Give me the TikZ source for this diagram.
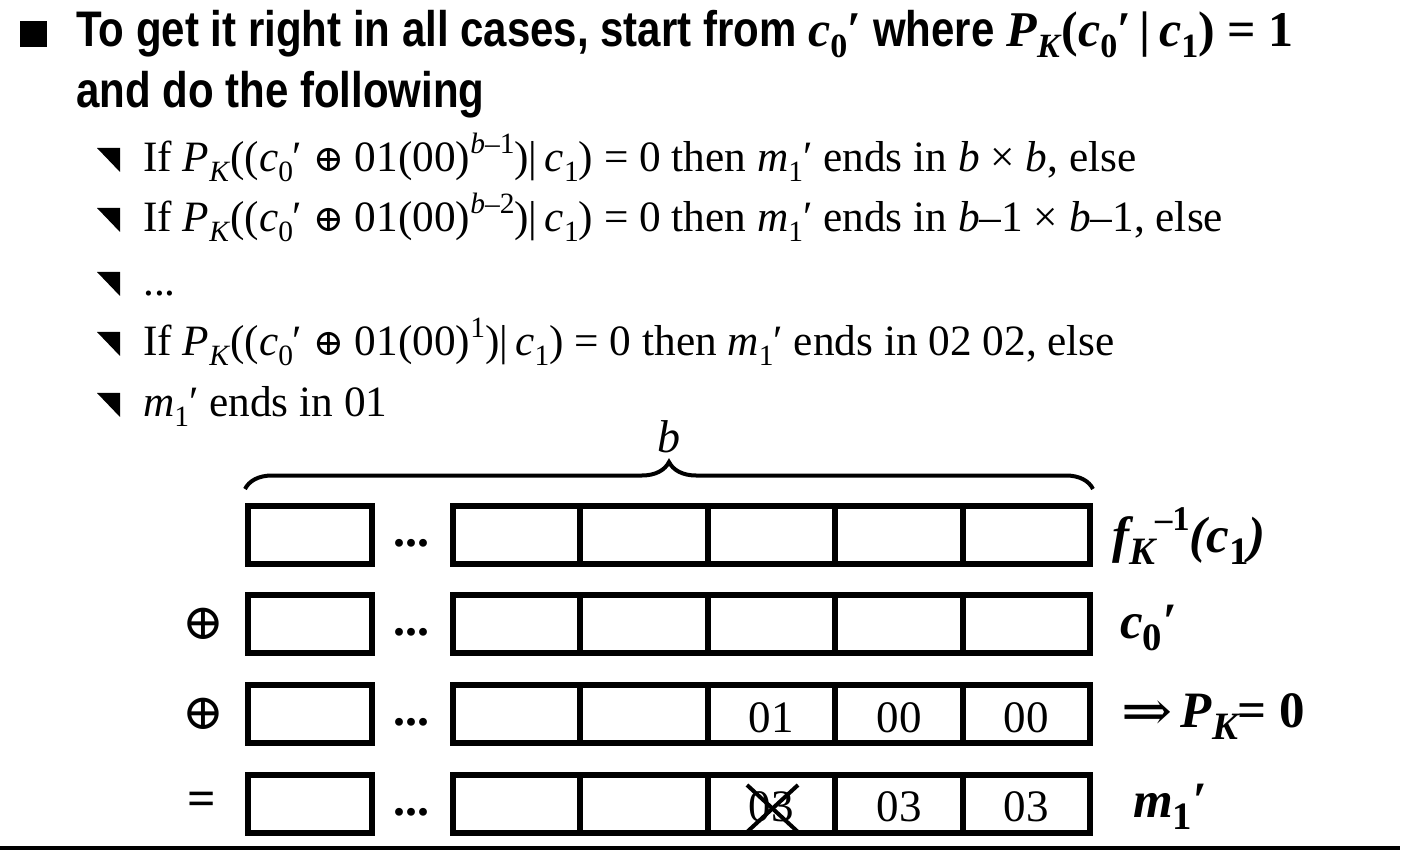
\documentclass[tikz,border=0pt]{standalone}
\usepackage{fontspec}
\usepackage{graphicx}
\setmainfont{Liberation Serif}
\newfontfamily\headfont[FakeStretch=0.84]{Liberation Sans}
\newfontfamily\symfont{DejaVu Serif}
\usetikzlibrary{decorations.pathreplacing}

\newcommand\sbs[1]{\raisebox{-0.22em}{\scalebox{0.68}{#1}}}
\newcommand\sps[1]{\raisebox{0.42em}{\scalebox{0.68}{#1}}}
\newcommand\bigsbs[1]{\raisebox{-0.24em}{\scalebox{0.76}{#1}}}
\newcommand\xor{{\symfont ⊕}}

\tikzset{
  headline/.style={anchor=base west, inner sep=0pt, font=\bfseries\fontsize{50}{60}\selectfont},
  subline/.style={anchor=base west, inner sep=0pt, font=\fontsize{43.3}{50}\selectfont},
  cellbox/.style={line width=5.5pt},
  celltext/.style={inner sep=0pt, font=\fontsize{45}{50}\selectfont},
  boxdots/.style={inner sep=0pt, anchor=base, font=\bfseries\fontsize{48}{50}\selectfont},
  rowlabel/.style={anchor=base west, inner sep=0pt, font=\bfseries\itshape\fontsize{51}{60}\selectfont},
}

\begin{document}
\begin{tikzpicture}[x=1pt,y=-1pt]
		\useasboundingbox (0,0) rectangle (1422,866);
		% bullets
		\fill (20,21) rectangle (47,47);
		\fill (97,148) -- (120,148) -- (120,172) -- cycle;
		\fill (97,208) -- (120,208) -- (120,232) -- cycle;
		\fill (97,272) -- (120,272) -- (120,296) -- cycle;
		\fill (97,332) -- (120,332) -- (120,356) -- cycle;
		\fill (97,393) -- (120,393) -- (120,417) -- cycle;
		% heading
		\node[headline] (head1) at (76,47) {{\headfont To get it right in all cases, start from }\textit{c}\sbs{0}′{\headfont\ where }\textit{P}\sbs{\textit{K}}(\textit{c}\sbs{0}′\,|\,\textit{c}\sbs{1}) = 1};
		\node[headline] (head2) at (76,108) {\headfont and do the following};
		% sub points
		\node[subline] (if1) at (143,172) {If \textit{P}\sbs{\textit{K}}((\textit{c}\sbs{0}′ {\scalebox{0.85}{\xor}} 01(00)\sps{\textit{b}–1})|\,\textit{c}\sbs{1}) = 0 then \textit{m}\sbs{1}′ ends in \textit{b} × \textit{b}, else};
		\node[subline] (if2) at (143,232) {If \textit{P}\sbs{\textit{K}}((\textit{c}\sbs{0}′ {\scalebox{0.85}{\xor}} 01(00)\sps{\textit{b}–2})|\,\textit{c}\sbs{1}) = 0 then \textit{m}\sbs{1}′ ends in \textit{b}–1 × \textit{b}–1, else};
		\node[subline] (ifdots) at (143,296) {...};
		\node[subline] (iflast) at (143,356) {If \textit{P}\sbs{\textit{K}}((\textit{c}\sbs{0}′ {\scalebox{0.85}{\xor}} 01(00)\sps{1})|\,\textit{c}\sbs{1}) = 0 then \textit{m}\sbs{1}′ ends in 02 02, else};
		\node[subline] (final) at (143,417) {\textit{m}\sbs{1}′ ends in 01};
		% brace over the blocks
		\draw[decorate, decoration={brace, amplitude=27pt}, line width=4pt] (245,489) -- (1093,489);
		\node[subline, anchor=base, font=\fontsize{46}{54}\selectfont] (blen) at (669,453) {\textit{b}};
		% rows of blocks
		\draw[cellbox] (248,506) rectangle (372,564) (453,506) rectangle (1090,564) (580,506) -- (580,564) (708,506) -- (708,564) (835,506) -- (835,564) (963,506) -- (963,564);
		\draw[cellbox] (248,595) rectangle (372,653) (453,595) rectangle (1090,653) (580,595) -- (580,653) (708,595) -- (708,653) (835,595) -- (835,653) (963,595) -- (963,653);
		\draw[cellbox] (248,685) rectangle (372,743) (453,685) rectangle (1090,743) (580,685) -- (580,743) (708,685) -- (708,743) (835,685) -- (835,743) (963,685) -- (963,743);
		\draw[cellbox] (248,775) rectangle (372,833) (453,775) rectangle (1090,833) (580,775) -- (580,833) (708,775) -- (708,833) (835,775) -- (835,833) (963,775) -- (963,833);
		\node[boxdots] (dots1) at (411,546) {...};
		\node[boxdots] (dots2) at (411,635) {...};
		\node[boxdots] (dots3) at (411,725) {...};
		\node[boxdots] (dots4) at (411,815) {...};
		% operators on the left
		\node[celltext, font=\symfont\fontsize{50}{50}\selectfont] (xor1) at (203,624) {⊕};
		\node[celltext, font=\symfont\fontsize{50}{50}\selectfont] (xor2) at (203,714) {⊕};
		\node[celltext, font=\bfseries\fontsize{50}{50}\selectfont] (eq) at (202,804) {=};
		% cell contents
		\node[celltext] (c31) at (771,718) {01};
		\node[celltext] (c32) at (899,718) {00};
		\node[celltext] (c33) at (1026,718) {00};
		\node[celltext] (c41) at (771,807) {03};
		\node[celltext] (c42) at (899,807) {03};
		\node[celltext] (c43) at (1026,807) {03};
		\draw[line width=4pt] (747,785) -- (798,832);
		\draw[line width=4pt] (798,785) -- (747,832);
		% labels on the right
		\node[rowlabel] (finv) at (1112,552) {\textit{f}\bigsbs{\textit{K}}\sps{\textup{–1}}(\textit{c}\bigsbs{\textup{1}})};
		\node[rowlabel] (cnull) at (1120,638) {\textit{c}\bigsbs{\textup{0}}′};
		\node[rowlabel] (pk) at (1121,727) {{\symfont\mdseries\raisebox{-0.06em}{\scalebox{1.2}[1.1]{⇒}}}\,\textit{P}\bigsbs{\textit{K}}\textup{= 0}};
		\node[rowlabel] (mone) at (1133,817) {\textit{m}\bigsbs{\textup{1}}′};
		% rule at the bottom
		\draw[line width=4pt] (0,848) -- (1400,848);
	\end{tikzpicture}
\end{document}
